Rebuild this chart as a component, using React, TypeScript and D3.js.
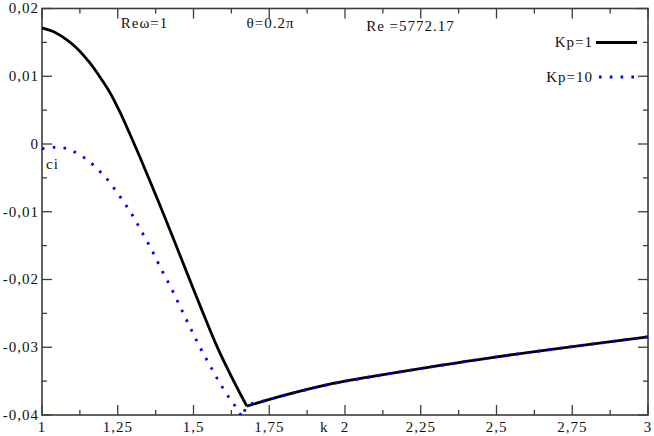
import { useRef, useEffect } from "react";
import * as d3 from "d3";

// Kp=1 (black, solid)
const kp1K = [1.0, 1.037, 1.082, 1.115, 1.158, 1.191, 1.224, 1.257, 1.29, 1.323, 1.363, 1.403, 1.442, 1.484, 1.521, 1.577, 1.631, 1.676, 1.742, 1.852, 1.961, 2.072, 2.182, 2.501, 3.0];
const kp1Ci = [0.01713, 0.01659, 0.01536, 0.01414, 0.01196, 0.0099, 0.00761, 0.00473, 0.00148, -0.00192, -0.0062, -0.01056, -0.01492, -0.01965, -0.02378, -0.02984, -0.03486, -0.0387, -0.03781, -0.03649, -0.03535, -0.03446, -0.03363, -0.03142, -0.02846];

// Kp=10 (blue, dotted)
const kp10K = [1.0, 1.04, 1.076, 1.109, 1.139, 1.167, 1.192, 1.217, 1.258, 1.297, 1.331, 1.364, 1.396, 1.428, 1.459, 1.488, 1.519, 1.552, 1.587, 1.626, 1.645, 1.662, 1.676, 1.742, 1.852, 1.961, 2.072, 2.182, 2.501, 3.0];
const kp10Ci = [-0.0007, -0.0005, -0.0006, -0.0012, -0.002, -0.003, -0.0041, -0.0053, -0.0078, -0.0104, -0.0131, -0.0158, -0.0187, -0.0214, -0.0243, -0.027, -0.0298, -0.0325, -0.0353, -0.038, -0.0391, -0.0403, -0.0387, -0.03781, -0.03649, -0.03535, -0.03446, -0.03363, -0.03142, -0.02846];

const xTicks = [1, 1.25, 1.5, 1.75, 2, 2.25, 2.5, 2.75, 3];
const xTickLabels = ["1", "1,25", "1,5", "1,75", "2", "2,25", "2,5", "2,75", "3"];
const yTicks = [0.02, 0.01, 0, -0.01, -0.02, -0.03, -0.04];
const yTickLabels = ["0,02", "0,01", "0", "-0,01", "-0,02", "-0,03", "-0,04"];

const notes = [
  { text: "Reω=1", x: 1.26, y: 28 },
  { text: "θ=0.2π", x: 1.675, y: 28 },
  { text: "Re =5772.17", x: 2.07, y: 31 },
];

export default function App() {
  const svgRef = useRef<SVGSVGElement>(null);

  useEffect(() => {
    const svg = d3.select(svgRef.current);
    svg.selectAll("*").remove();

    const width = 654;
    const height = 436;
    const margin = { top: 8.5, right: 6, bottom: 21, left: 42 };
    const font = "'Liberation Serif', 'Times New Roman', serif";
    const axisColor = "#3c3c3c";

    const x = d3.scaleLinear().domain([1, 3]).range([margin.left, width - margin.right]);
    const y = d3.scaleLinear().domain([-0.04, 0.02]).range([height - margin.bottom, margin.top]);

    svg.attr("width", width).attr("height", height).style("font-family", font);

    svg
      .append("defs")
      .append("clipPath")
      .attr("id", "plot-clip")
      .append("rect")
      .attr("x", margin.left)
      .attr("y", margin.top)
      .attr("width", width - margin.right - margin.left)
      .attr("height", height - margin.bottom - margin.top);

    const x0 = margin.left;
    const x1 = width - margin.right;
    const y0 = height - margin.bottom;
    const y1 = margin.top;

    // ticks (inward on all four sides)
    const xMinor = d3.range(1.125, 3, 0.25);
    const yMinor = d3.range(-0.035, 0.02, 0.01);
    const tg = svg.append("g").attr("stroke", axisColor).attr("stroke-width", 1.3);
    const tick = (ax: number, ay: number, bx: number, by: number) =>
      tg.append("line").attr("x1", ax).attr("y1", ay).attr("x2", bx).attr("y2", by);
    xTicks.forEach((t) => {
      tick(x(t), y0, x(t), y0 - 10);
      tick(x(t), y1, x(t), y1 + 10);
    });
    xMinor.forEach((t) => {
      tick(x(t), y0, x(t), y0 - 5);
      tick(x(t), y1, x(t), y1 + 5);
    });
    yTicks.forEach((t) => {
      tick(x0, y(t), x0 + 10, y(t));
      tick(x1, y(t), x1 - 10, y(t));
    });
    yMinor.forEach((t) => {
      tick(x0, y(t), x0 + 5, y(t));
      tick(x1, y(t), x1 - 5, y(t));
    });

    // frame
    svg
      .append("rect")
      .attr("x", x0)
      .attr("y", y1)
      .attr("width", x1 - x0)
      .attr("height", y0 - y1)
      .attr("fill", "none")
      .attr("stroke", axisColor)
      .attr("stroke-width", 1.6);

    // tick labels
    const lbl = svg.append("g").attr("font-size", 15).attr("fill", "#111").style("letter-spacing", "1px");
    xTicks.forEach((t, i) => {
      lbl.append("text").attr("x", x(t)).attr("y", 432).attr("text-anchor", "middle").text(xTickLabels[i]);
    });
    yTicks.forEach((t, i) => {
      lbl
        .append("text")
        .attr("x", 39)
        .attr("y", y(t))
        .attr("dy", "0.33em")
        .attr("text-anchor", "end")
        .text(yTickLabels[i]);
    });

    // axis titles
    lbl.append("text").attr("x", 320).attr("y", 432).text("k");
    lbl.append("text").attr("x", 46).attr("y", 169).text("ci");

    // annotations
    notes.forEach((n) => {
      lbl.append("text").attr("x", x(n.x)).attr("y", n.y).text(n.text);
    });

    const line = d3
      .line<[number, number]>()
      .x((d) => x(d[0]))
      .y((d) => y(d[1]))
      .curve(d3.curveCatmullRom.alpha(0.5));

    // split each series at its minimum so the corner stays sharp
    const pieces = (ks: number[], cs: number[]) => {
      const pts = ks.map((k, i) => [k, cs[i]] as [number, number]);
      const m = d3.minIndex(cs);
      return [pts.slice(0, m + 1), pts.slice(m)];
    };

    const plot = svg.append("g").attr("clip-path", "url(#plot-clip)");
    pieces(kp1K, kp1Ci).forEach((p) =>
      plot
        .append("path")
        .datum(p)
        .attr("d", line)
        .attr("fill", "none")
        .attr("stroke", "#000")
        .attr("stroke-width", 2.8)
    );
    const blue = kp10K.map((k, i) => [k, kp10Ci[i]] as [number, number]);
    plot
      .append("path")
      .datum(blue)
      .attr("d", line)
      .attr("fill", "none")
      .attr("stroke", "#0000ff")
      .attr("stroke-width", 2.8)
      .attr("stroke-dasharray", "2.6 8.2");

    // legend
    const legend = [
      { label: "Kp=1", y: 42.5, dash: null, color: "#000" },
      { label: "Kp=10", y: 77, dash: "2.6 8.2", color: "#0000ff" },
    ];
    legend.forEach((l) => {
      lbl
        .append("text")
        .attr("x", 593)
        .attr("y", l.y)
        .attr("dy", "0.3em")
        .attr("text-anchor", "end")
        .text(l.label);
      svg
        .append("line")
        .attr("x1", l.dash ? 599 : 596)
        .attr("x2", 637)
        .attr("y1", l.y)
        .attr("y2", l.y)
        .attr("stroke", l.color)
        .attr("stroke-width", 2.8)
        .attr("stroke-dasharray", l.dash);
    });
  }, []);

  return <svg ref={svgRef} style={{ position: "absolute", left: 0, top: 0, display: "block" }} />;
}
